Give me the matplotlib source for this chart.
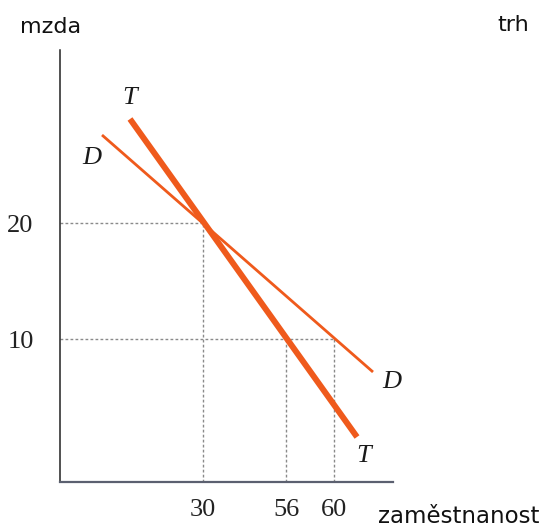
import matplotlib.pyplot as plt

# schematic positions (graph units measured from the origin of the axes)
x_tick_pos = [143, 226, 274]
x_tick_labels = ['30', '56', '60']
y_tick_pos = [259, 143]
y_tick_labels = ['20', '10']

# demand curve D and supply curve T (end points)
T_x = [70, 297]
T_y = [363, 45]
D_x = [42, 313]
D_y = [347, 110]

orange = '#ef5a1c'

fig = plt.figure(figsize=(5.59, 5.31), dpi=100)
ax = fig.add_axes([60 / 559, 49 / 531, 333 / 559, 432 / 531])
ax.set_xlim(0, 333)
ax.set_ylim(0, 432)

# dotted guide lines
dot = dict(color='#8a8a8a', lw=1.0, linestyle=(0, (2, 1.6)), zorder=1)
ax.plot([0, x_tick_pos[0]], [y_tick_pos[0], y_tick_pos[0]], **dot)
ax.plot([x_tick_pos[0], x_tick_pos[0]], [0, y_tick_pos[0]], **dot)
ax.plot([0, x_tick_pos[2]], [y_tick_pos[1], y_tick_pos[1]], **dot)
ax.plot([x_tick_pos[1], x_tick_pos[1]], [0, y_tick_pos[1]], **dot)
ax.plot([x_tick_pos[2], x_tick_pos[2]], [0, y_tick_pos[1]], **dot)

ax.plot(D_x, D_y, color=orange, lw=2.0, solid_capstyle='butt', zorder=3)
ax.plot(T_x, T_y, color=orange, lw=4.3, solid_capstyle='butt', zorder=4)

lab = dict(family='Liberation Serif', style='italic', fontsize=19,
           color='#1a1a1a', ha='center', va='center')
ax.text(70, 384, 'T', **lab)
ax.text(32, 324, 'D', **lab)
ax.text(332, 100, 'D', **lab)
ax.text(304, 26, 'T', **lab)

for side in ['top', 'right']:
    ax.spines[side].set_visible(False)
ax.spines['left'].set_color('#222222')
ax.spines['left'].set_linewidth(1.1)
ax.spines['bottom'].set_color('#5b6070')
ax.spines['bottom'].set_linewidth(1.6)

ax.set_xticks(x_tick_pos, x_tick_labels)
ax.set_yticks(y_tick_pos, y_tick_labels)
ax.tick_params(length=0, labelsize=19, colors='#222222')
ax.tick_params(axis='x', pad=12)
ax.tick_params(axis='y', pad=19)
for t in ax.get_xticklabels() + ax.get_yticklabels():
    t.set_family('Liberation Serif')

fig.text(20 / 559, 1 - 33 / 531, 'mzda', family='DejaVu Sans', fontsize=16,
         va='baseline', ha='left', color='#111111')
fig.text(497 / 559, 1 - 31 / 531, 'trh', family='DejaVu Sans', fontsize=16,
         va='baseline', ha='left', color='#111111')
fig.text(378 / 559, 1 - 523 / 531, 'zaměstnanost', family='DejaVu Sans',
         fontsize=16.5, va='baseline', ha='left', color='#111111')

fig.savefig('out.png', dpi=100)
